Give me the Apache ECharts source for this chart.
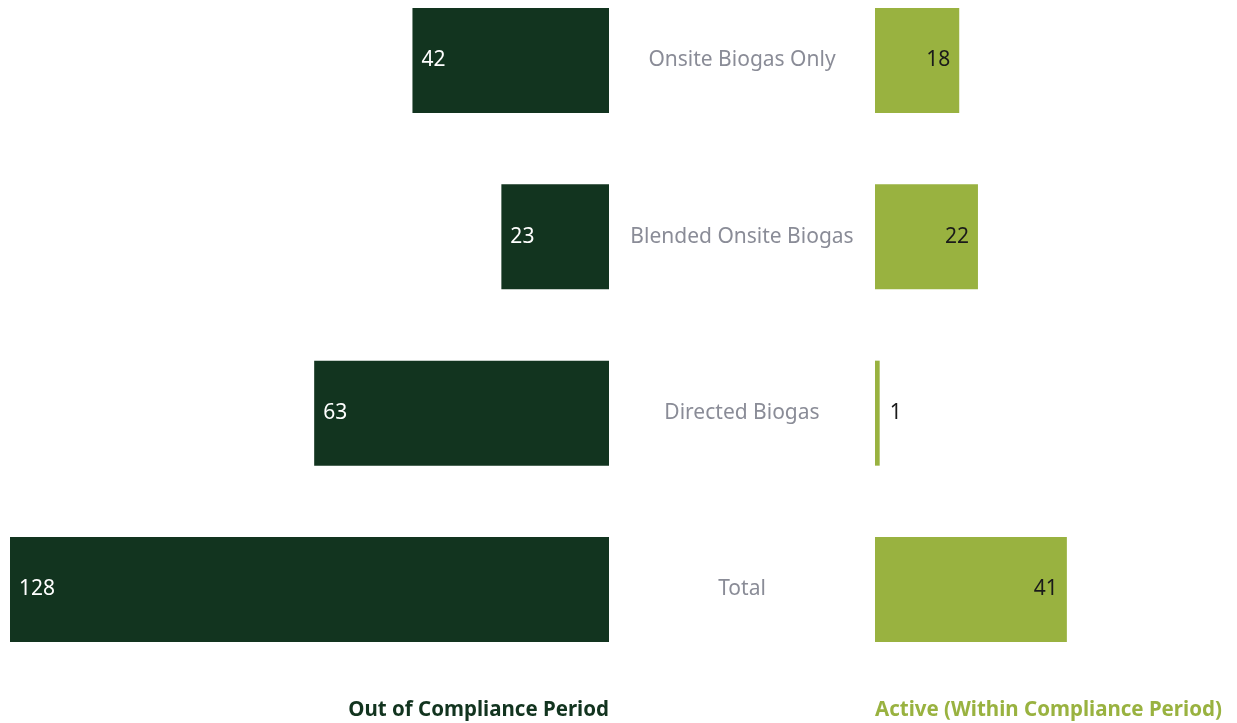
<!DOCTYPE html>
<html><head><meta charset="utf-8">
<script src="https://cdn.jsdelivr.net/npm/echarts@6/dist/echarts.min.js"></script>
<style>html,body{margin:0;padding:0;background:#fff}#c{width:1237px;height:723px}</style>
</head><body><div id="c"></div>
<script>
const categories = ["Onsite Biogas Only", "Blended Onsite Biogas", "Directed Biogas", "Total"];
const outOfCompliance = [42, 23, 63, 128];
const active = [18, 22, 1, 41];
const seriesNames = ["Out of Compliance Period", "Active (Within Compliance Period)"];

const DARK = '#12341f', LIGHT = '#99b240', GRAY = '#8a8c97';
const FONT = '"Noto Sans", sans-serif';
const chart = echarts.init(document.getElementById('c'));
const pxPerUnit = 599 / 128;
const rightWidth = 360;
const gridTop = 60.5, gridH = 529;

chart.setOption({
  animation: false,
  grid: [
    {left: 10, width: 599, top: gridTop, height: gridH, containLabel: false},
    {left: 875, width: rightWidth, top: gridTop, height: gridH, containLabel: false}
  ],
  xAxis: [
    {gridIndex: 0, type: 'value', min: 0, max: 128, inverse: true, show: false},
    {gridIndex: 1, type: 'value', min: 0, max: rightWidth / pxPerUnit, show: false}
  ],
  yAxis: [
    {gridIndex: 0, type: 'category', data: categories, inverse: true, boundaryGap: false, show: false},
    {gridIndex: 1, type: 'category', data: categories, inverse: true, boundaryGap: false,
     axisLine: {show: false}, axisTick: {show: false}, splitLine: {show: false},
     axisLabel: {show: true, align: 'center', margin: 133, color: GRAY, fontSize: 21, fontFamily: FONT,
                 padding: [4, 0, 0, 0]}}
  ],
  series: [
    {name: seriesNames[0], type: 'bar', xAxisIndex: 0, yAxisIndex: 0, barWidth: 105, clip: false,
     data: outOfCompliance,
     itemStyle: {color: DARK},
     label: {show: true, position: 'insideLeft', distance: 9, color: '#ffffff', fontSize: 21, fontFamily: FONT,
             padding: [4, 0, 0, 0]}},
    {name: seriesNames[1], type: 'bar', xAxisIndex: 1, yAxisIndex: 1, barWidth: 105, clip: false,
     data: active.map(v => (v * pxPerUnit < 40)
       ? {value: v, label: {position: 'right', distance: 10}}
       : v),
     itemStyle: {color: LIGHT},
     label: {show: true, position: 'insideRight', distance: 9, color: '#1a1a1a', fontSize: 21, fontFamily: FONT,
             padding: [4, 0, 0, 0]}}
  ],
  graphic: [
    {type: 'text', right: 1237 - 609, top: 700,
     style: {text: seriesNames[0], fill: DARK, font: 'bold 20.5px ' + FONT}},
    {type: 'text', left: 875, top: 700,
     style: {text: seriesNames[1], fill: LIGHT, font: 'bold 20.5px ' + FONT}}
  ]
});
</script></body></html>
